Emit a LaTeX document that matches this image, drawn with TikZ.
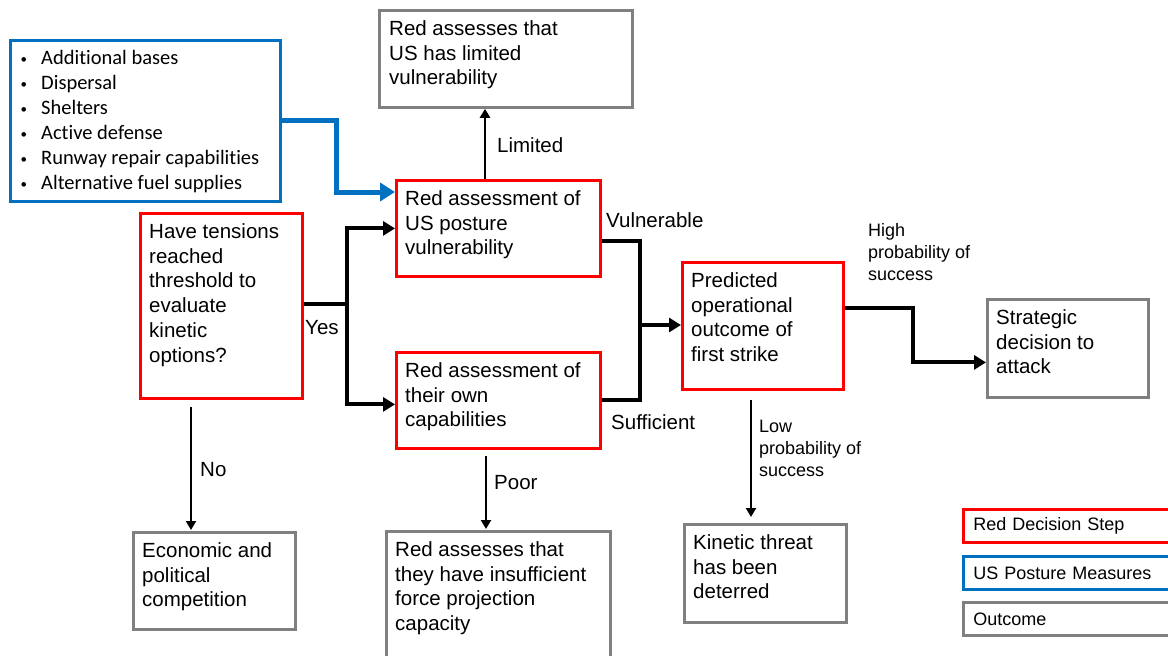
\documentclass[tikz,border=0pt]{standalone}
\usepackage{fontspec}
\setmainfont{Liberation Sans}
\newfontfamily\calibri[Ligatures=NoCommon]{Carlito}
\usetikzlibrary{arrows.meta}
\definecolor{rd}{RGB}{255,0,0}
\definecolor{bl}{RGB}{0,112,192}
\definecolor{gr}{RGB}{128,128,128}
\newcommand{\blt}{\makebox[21pt][l]{\hspace{0.5pt}\raisebox{0.5pt}{\fontsize{13}{13}\selectfont •}}}
\begin{document}
\begin{tikzpicture}[x=1pt,y=-1pt,
  redbox/.style={draw=rd, line width=2.8pt, fill=white, anchor=north west, inner sep=0pt},
  graybox/.style={draw=gr, line width=2.8pt, fill=white, anchor=north west, inner sep=0pt},
  bluebox/.style={draw=bl, line width=2.8pt, fill=white, anchor=north west, inner sep=0pt},
  txt/.style={anchor=north west, inner sep=0pt, align=left, font=\fontsize{20.5}{24.7}\selectfont},
  lab/.style={inner sep=0pt, anchor=west, font=\fontsize{20.5}{24.7}\selectfont},
  small/.style={anchor=north west, inner sep=0pt, align=left, font=\fontsize{18}{22}\selectfont},
  legend/.style={minimum height=33pt, text width=195pt, inner xsep=10pt, align=left, font=\fontsize{18}{22}\selectfont},
  thickline/.style={line width=4pt},
  thickarrow/.style={line width=4pt, -{Triangle[length=12pt,width=14pt]}},
  thinarrow/.style={line width=2.5pt, -{Triangle[length=9pt,width=10pt]}},
  bluearrow/.style={draw=bl, line width=5pt, -{Triangle[length=15pt,width=18pt]}}
]
\clip (0,0) rectangle (1168,656);
\fill[white] (0,0) rectangle (1168,656);

% boxes
\node[graybox, minimum width=253pt, minimum height=97pt] (lim) at (378,9) {};
\node[txt] (limt) at ([shift={(11,11.5)}]lim.north west) {Red assesses that\\US has limited\\vulnerability};

\node[bluebox, minimum width=270pt, minimum height=161pt] (us) at (9,39) {};
\node[anchor=north west, inner sep=0pt, align=left, font=\calibri\fontsize{20.5}{25}\selectfont] (ust) at (20,50)
  {\blt Additional bases\\\blt Dispersal\\\blt Shelters\\\blt Active defense\\\blt Runway repair capabilities\\\blt Alternative fuel supplies};

\node[redbox, minimum width=204pt, minimum height=96pt] (va) at (395,179) {};
\node[txt] (vat) at ([shift={(10,11.5)}]va.north west) {Red assessment of\\US posture\\vulnerability};

\node[redbox, minimum width=162pt, minimum height=185pt] (q) at (139,212) {};
\node[txt] (qt) at ([shift={(10,11.5)}]q.north west) {Have tensions\\reached\\threshold to\\evaluate\\kinetic\\options?};

\node[redbox, minimum width=204pt, minimum height=96pt] (oc) at (395,351) {};
\node[txt] (oct) at ([shift={(10,11.5)}]oc.north west) {Red assessment of\\their own\\capabilities};

\node[redbox, minimum width=161pt, minimum height=127pt] (pr) at (681,261) {};
\node[txt] (prt) at ([shift={(10,11.5)}]pr.north west) {Predicted\\operational\\outcome of\\first strike};

\node[graybox, minimum width=161pt, minimum height=98pt] (sd) at (986,298) {};
\node[txt] (sdt) at ([shift={(10,11.5)}]sd.north west) {Strategic\\decision to\\attack};

\node[graybox, minimum width=162pt, minimum height=98pt] (kt) at (683,523) {};
\node[txt] (ktt) at ([shift={(10,11.5)}]kt.north west) {Kinetic threat\\has been\\deterred};

\node[graybox, minimum width=224pt, minimum height=140pt] (ins) at (385,530) {};
\node[txt] (inst) at ([shift={(10,11.5)}]ins.north west) {Red assesses that\\they have insufficient\\force projection\\capacity};

\node[graybox, minimum width=162pt, minimum height=97pt] (eco) at (132,531) {};
\node[txt] (ecot) at ([shift={(10,11.5)}]eco.north west) {Economic and\\political\\competition};

% legend
\node[redbox, legend] (lg1) at (962,508) {Red Decision Step};
\node[bluebox, legend] (lg2) at (962,555) {US Posture Measures};
\node[graybox, legend] (lg3) at (962,601) {Outcome};

% connectors
\coordinate (bj) at (336,192);
\draw[bluearrow] (us.east) -| (bj) -- (va.west |- bj);

\coordinate (cLim) at (485,150);
\draw[thinarrow] (va.north -| cLim) -- (lim.south -| cLim);

\coordinate (yj) at (347,304);
\draw[thickline] (q.east |- yj) -- (yj);
\draw[thickarrow] (yj) |- (va.west);
\draw[thickarrow] (yj) |- ([shift={(0,4)}]oc.west);

\coordinate (vj) at (640,325);
\draw[thickline] ([shift={(0,13)}]va.east) -| (vj);
\draw[thickline] (oc.east) -| (vj);
\draw[thickarrow] (vj) -- (pr.west |- vj);

\coordinate (hj) at (913,308);
\draw[thickarrow] (pr.east |- hj) -- (hj) |- ([shift={(0,14)}]sd.west);

\coordinate (lj) at (751,450);
\draw[thinarrow, shorten <=9pt, shorten >=6pt] (pr.south -| lj) -- (kt.north -| lj);

\coordinate (pj) at (486,490);
\draw[thinarrow, shorten <=6pt, shorten >=1pt] (oc.south -| pj) -- (ins.north -| pj);

\coordinate (nj) at (191,470);
\draw[thinarrow, shorten <=7pt, shorten >=1pt] (q.south -| nj) -- (eco.north -| nj);

% labels
\node[lab] (lLim) at (497,145) {Limited};
\node[lab] (lYes) at (305,328) {Yes};
\node[lab] (lVul) at (606,220) {Vulnerable};
\node[lab] (lSuf) at (611,422) {Sufficient};
\node[lab] (lNo) at (200,470) {No};
\node[lab] (lPoor) at (494,483) {Poor};
\node[small] (lHigh) at (868,223) {High\\probability of\\success};
\node[small] (lLow) at (759,420) {Low\\probability of\\success};
\end{tikzpicture}
\end{document}
